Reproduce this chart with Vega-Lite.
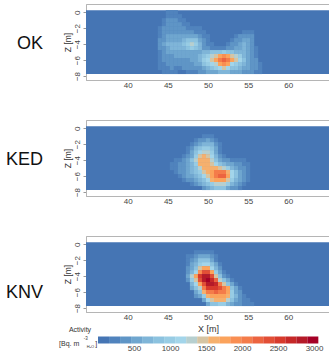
{"$schema":"https://vega.github.io/schema/vega-lite/v6.json","padding":{"left":5,"top":3,"right":0,"bottom":0},"spacing":-8.5,"config":{"font":"Liberation Sans","view":{"stroke":"#b5b5b5","strokeWidth":1},"text":{"font":"Liberation Sans"},"axis":{"labelFont":"Liberation Sans","titleFont":"Liberation Sans","labelFontSize":8,"titleFontSize":8.5,"labelColor":"#444","titleColor":"#333","titleFontWeight":"normal","grid":false,"domainColor":"#b5b5b5","tickColor":"#999","tickSize":3,"labelPadding":2,"labelOverlap":false,"format":"d"}},"vconcat":[
{"width":244,"height":76,
"layer":[
{"data":{"values":[{"x0":34.8,"x1":65.2,"z0":0.25,"z1":-7.75}]},"mark":{"type":"rect","color":"#4575b4"},"encoding":{"x":{"field":"x0","type":"quantitative","scale":{"domain":[34.8,65.2],"nice":false,"zero":false},"axis":{"values":[40,45,50,55,60],"title":" ","tickSize":0,"labelPadding":1,"titleFontSize":9,"titlePadding":21.25}},"x2":{"field":"x1"},"y":{"field":"z0","type":"quantitative","scale":{"domain":[-8.5,1.03],"nice":false,"zero":false},"axis":{"values":[0,-2,-4,-6,-8],"tickCount":5,"title":"Z [m]","labelAngle":-90,"labelAlign":"center","labelBaseline":"bottom","titlePadding":1}},"y2":{"field":"z1"}}},
{"data":{"values":[
{"x":45,"z":0,"v":200},{"x":45.5,"z":0,"v":250},{"x":46,"z":0,"v":200},
{"x":45,"z":-0.5,"v":250},{"x":45.5,"z":-0.5,"v":300},{"x":46,"z":-0.5,"v":300},{"x":46.5,"z":-0.5,"v":250},
{"x":44.5,"z":-1,"v":250},{"x":45,"z":-1,"v":350},{"x":45.5,"z":-1,"v":350},{"x":46,"z":-1,"v":350},{"x":46.5,"z":-1,"v":300},{"x":47,"z":-1,"v":250},
{"x":44.5,"z":-1.5,"v":300},{"x":45,"z":-1.5,"v":400},{"x":45.5,"z":-1.5,"v":400},{"x":46,"z":-1.5,"v":400},{"x":46.5,"z":-1.5,"v":350},{"x":47,"z":-1.5,"v":300},{"x":47.5,"z":-1.5,"v":250},
{"x":44,"z":-2,"v":250},{"x":44.5,"z":-2,"v":350},{"x":45,"z":-2,"v":400},{"x":45.5,"z":-2,"v":450},{"x":46,"z":-2,"v":450},{"x":46.5,"z":-2,"v":400},{"x":47,"z":-2,"v":350},{"x":47.5,"z":-2,"v":300},{"x":48,"z":-2,"v":250},{"x":48.5,"z":-2,"v":250},{"x":49,"z":-2,"v":200},
{"x":44,"z":-2.5,"v":300},{"x":44.5,"z":-2.5,"v":400},{"x":45,"z":-2.5,"v":450},{"x":45.5,"z":-2.5,"v":450},{"x":46,"z":-2.5,"v":450},{"x":46.5,"z":-2.5,"v":450},{"x":47,"z":-2.5,"v":400},{"x":47.5,"z":-2.5,"v":350},{"x":48,"z":-2.5,"v":350},{"x":48.5,"z":-2.5,"v":300},{"x":49,"z":-2.5,"v":250},{"x":49.5,"z":-2.5,"v":200},{"x":54.5,"z":-2.5,"v":250},{"x":55,"z":-2.5,"v":300},{"x":55.5,"z":-2.5,"v":250},
{"x":44,"z":-3,"v":300},{"x":44.5,"z":-3,"v":400},{"x":45,"z":-3,"v":500},{"x":45.5,"z":-3,"v":500},{"x":46,"z":-3,"v":500},{"x":46.5,"z":-3,"v":500},{"x":47,"z":-3,"v":550},{"x":47.5,"z":-3,"v":550},{"x":48,"z":-3,"v":550},{"x":48.5,"z":-3,"v":500},{"x":49,"z":-3,"v":400},{"x":49.5,"z":-3,"v":300},{"x":50,"z":-3,"v":200},{"x":53.5,"z":-3,"v":250},{"x":54,"z":-3,"v":350},{"x":54.5,"z":-3,"v":450},{"x":55,"z":-3,"v":450},{"x":55.5,"z":-3,"v":350},
{"x":44,"z":-3.5,"v":350},{"x":44.5,"z":-3.5,"v":450},{"x":45,"z":-3.5,"v":550},{"x":45.5,"z":-3.5,"v":550},{"x":46,"z":-3.5,"v":550},{"x":46.5,"z":-3.5,"v":600},{"x":47,"z":-3.5,"v":700},{"x":47.5,"z":-3.5,"v":850},{"x":48,"z":-3.5,"v":850},{"x":48.5,"z":-3.5,"v":800},{"x":49,"z":-3.5,"v":550},{"x":49.5,"z":-3.5,"v":350},{"x":50,"z":-3.5,"v":250},{"x":53,"z":-3.5,"v":250},{"x":53.5,"z":-3.5,"v":350},{"x":54,"z":-3.5,"v":450},{"x":54.5,"z":-3.5,"v":550},{"x":55,"z":-3.5,"v":550},{"x":55.5,"z":-3.5,"v":400},
{"x":44,"z":-4,"v":350},{"x":44.5,"z":-4,"v":500},{"x":45,"z":-4,"v":650},{"x":45.5,"z":-4,"v":700},{"x":46,"z":-4,"v":700},{"x":46.5,"z":-4,"v":750},{"x":47,"z":-4,"v":900},{"x":47.5,"z":-4,"v":1050},{"x":48,"z":-4,"v":1350},{"x":48.5,"z":-4,"v":950},{"x":49,"z":-4,"v":700},{"x":49.5,"z":-4,"v":450},{"x":50,"z":-4,"v":300},{"x":50.5,"z":-4,"v":200},{"x":52.5,"z":-4,"v":250},{"x":53,"z":-4,"v":350},{"x":53.5,"z":-4,"v":450},{"x":54,"z":-4,"v":550},{"x":54.5,"z":-4,"v":650},{"x":55,"z":-4,"v":600},{"x":55.5,"z":-4,"v":450},
{"x":44,"z":-4.5,"v":350},{"x":44.5,"z":-4.5,"v":450},{"x":45,"z":-4.5,"v":600},{"x":45.5,"z":-4.5,"v":650},{"x":46,"z":-4.5,"v":650},{"x":46.5,"z":-4.5,"v":650},{"x":47,"z":-4.5,"v":750},{"x":47.5,"z":-4.5,"v":850},{"x":48,"z":-4.5,"v":1050},{"x":48.5,"z":-4.5,"v":800},{"x":49,"z":-4.5,"v":650},{"x":49.5,"z":-4.5,"v":450},{"x":50,"z":-4.5,"v":350},{"x":50.5,"z":-4.5,"v":300},{"x":51,"z":-4.5,"v":250},{"x":51.5,"z":-4.5,"v":250},{"x":52,"z":-4.5,"v":300},{"x":52.5,"z":-4.5,"v":350},{"x":53,"z":-4.5,"v":450},{"x":53.5,"z":-4.5,"v":550},{"x":54,"z":-4.5,"v":600},{"x":54.5,"z":-4.5,"v":650},{"x":55,"z":-4.5,"v":600},{"x":55.5,"z":-4.5,"v":450},{"x":56,"z":-4.5,"v":300},
{"x":44,"z":-5,"v":300},{"x":44.5,"z":-5,"v":400},{"x":45,"z":-5,"v":500},{"x":45.5,"z":-5,"v":550},{"x":46,"z":-5,"v":550},{"x":46.5,"z":-5,"v":550},{"x":47,"z":-5,"v":600},{"x":47.5,"z":-5,"v":600},{"x":48,"z":-5,"v":600},{"x":48.5,"z":-5,"v":600},{"x":49,"z":-5,"v":600},{"x":49.5,"z":-5,"v":650},{"x":50,"z":-5,"v":750},{"x":50.5,"z":-5,"v":800},{"x":51,"z":-5,"v":850},{"x":51.5,"z":-5,"v":900},{"x":52,"z":-5,"v":950},{"x":52.5,"z":-5,"v":900},{"x":53,"z":-5,"v":800},{"x":53.5,"z":-5,"v":700},{"x":54,"z":-5,"v":650},{"x":54.5,"z":-5,"v":650},{"x":55,"z":-5,"v":550},{"x":55.5,"z":-5,"v":400},{"x":56,"z":-5,"v":300},
{"x":44,"z":-5.5,"v":300},{"x":44.5,"z":-5.5,"v":400},{"x":45,"z":-5.5,"v":450},{"x":45.5,"z":-5.5,"v":450},{"x":46,"z":-5.5,"v":500},{"x":46.5,"z":-5.5,"v":500},{"x":47,"z":-5.5,"v":500},{"x":47.5,"z":-5.5,"v":500},{"x":48,"z":-5.5,"v":500},{"x":48.5,"z":-5.5,"v":550},{"x":49,"z":-5.5,"v":700},{"x":49.5,"z":-5.5,"v":850},{"x":50,"z":-5.5,"v":1000},{"x":50.5,"z":-5.5,"v":1250},{"x":51,"z":-5.5,"v":1500},{"x":51.5,"z":-5.5,"v":1800},{"x":52,"z":-5.5,"v":1950},{"x":52.5,"z":-5.5,"v":1800},{"x":53,"z":-5.5,"v":1500},{"x":53.5,"z":-5.5,"v":1250},{"x":54,"z":-5.5,"v":950},{"x":54.5,"z":-5.5,"v":750},{"x":55,"z":-5.5,"v":550},{"x":55.5,"z":-5.5,"v":400},{"x":56,"z":-5.5,"v":300},
{"x":44,"z":-6,"v":300},{"x":44.5,"z":-6,"v":350},{"x":45,"z":-6,"v":400},{"x":45.5,"z":-6,"v":450},{"x":46,"z":-6,"v":450},{"x":46.5,"z":-6,"v":450},{"x":47,"z":-6,"v":450},{"x":47.5,"z":-6,"v":450},{"x":48,"z":-6,"v":500},{"x":48.5,"z":-6,"v":550},{"x":49,"z":-6,"v":750},{"x":49.5,"z":-6,"v":950},{"x":50,"z":-6,"v":1100},{"x":50.5,"z":-6,"v":1400},{"x":51,"z":-6,"v":1700},{"x":51.5,"z":-6,"v":2100},{"x":52,"z":-6,"v":2200},{"x":52.5,"z":-6,"v":2100},{"x":53,"z":-6,"v":1700},{"x":53.5,"z":-6,"v":1400},{"x":54,"z":-6,"v":1100},{"x":54.5,"z":-6,"v":800},{"x":55,"z":-6,"v":600},{"x":55.5,"z":-6,"v":450},{"x":56,"z":-6,"v":350},
{"x":44,"z":-6.5,"v":250},{"x":44.5,"z":-6.5,"v":300},{"x":45,"z":-6.5,"v":350},{"x":45.5,"z":-6.5,"v":400},{"x":46,"z":-6.5,"v":400},{"x":46.5,"z":-6.5,"v":400},{"x":47,"z":-6.5,"v":400},{"x":47.5,"z":-6.5,"v":400},{"x":48,"z":-6.5,"v":450},{"x":48.5,"z":-6.5,"v":500},{"x":49,"z":-6.5,"v":600},{"x":49.5,"z":-6.5,"v":800},{"x":50,"z":-6.5,"v":950},{"x":50.5,"z":-6.5,"v":1150},{"x":51,"z":-6.5,"v":1300},{"x":51.5,"z":-6.5,"v":1700},{"x":52,"z":-6.5,"v":1900},{"x":52.5,"z":-6.5,"v":1700},{"x":53,"z":-6.5,"v":1200},{"x":53.5,"z":-6.5,"v":1000},{"x":54,"z":-6.5,"v":850},{"x":54.5,"z":-6.5,"v":700},{"x":55,"z":-6.5,"v":550},{"x":55.5,"z":-6.5,"v":450},{"x":56,"z":-6.5,"v":350},{"x":56.5,"z":-6.5,"v":200},
{"x":44,"z":-7,"v":250},{"x":44.5,"z":-7,"v":300},{"x":45,"z":-7,"v":300},{"x":45.5,"z":-7,"v":350},{"x":46,"z":-7,"v":300},{"x":46.5,"z":-7,"v":300},{"x":47,"z":-7,"v":350},{"x":47.5,"z":-7,"v":350},{"x":48,"z":-7,"v":350},{"x":48.5,"z":-7,"v":400},{"x":49,"z":-7,"v":450},{"x":49.5,"z":-7,"v":600},{"x":50,"z":-7,"v":750},{"x":50.5,"z":-7,"v":850},{"x":51,"z":-7,"v":950},{"x":51.5,"z":-7,"v":1100},{"x":52,"z":-7,"v":1500},{"x":52.5,"z":-7,"v":1100},{"x":53,"z":-7,"v":900},{"x":53.5,"z":-7,"v":800},{"x":54,"z":-7,"v":700},{"x":54.5,"z":-7,"v":600},{"x":55,"z":-7,"v":500},{"x":55.5,"z":-7,"v":450},{"x":56,"z":-7,"v":350},{"x":56.5,"z":-7,"v":250},
{"x":44.5,"z":-7.5,"v":200},{"x":45,"z":-7.5,"v":250},{"x":45.5,"z":-7.5,"v":250},{"x":46,"z":-7.5,"v":250},{"x":46.5,"z":-7.5,"v":100},{"x":47,"z":-7.5,"v":100},{"x":47.5,"z":-7.5,"v":200},{"x":48,"z":-7.5,"v":250},{"x":48.5,"z":-7.5,"v":300},{"x":49,"z":-7.5,"v":350},{"x":49.5,"z":-7.5,"v":400},{"x":50,"z":-7.5,"v":500},{"x":50.5,"z":-7.5,"v":550},{"x":51,"z":-7.5,"v":600},{"x":51.5,"z":-7.5,"v":700},{"x":52,"z":-7.5,"v":750},{"x":52.5,"z":-7.5,"v":700},{"x":53,"z":-7.5,"v":600},{"x":53.5,"z":-7.5,"v":550},{"x":54,"z":-7.5,"v":500},{"x":54.5,"z":-7.5,"v":450},{"x":55,"z":-7.5,"v":400},{"x":55.5,"z":-7.5,"v":350},{"x":56,"z":-7.5,"v":300},{"x":56.5,"z":-7.5,"v":200}
]},"mark":{"type":"rect","width":4.1,"height":4.1},"encoding":{"x":{"field":"x","type":"quantitative"},"y":{"field":"z","type":"quantitative"},"color":{"field":"v","type":"quantitative","legend":null,"scale":{"type":"quantize","domain":[0,3060],"range":["#4575b4","#5083bd","#5f95c6","#6fa6cf","#7fb5d8","#8cc2df","#98cce4","#a3d5ea","#b7cfcf","#d5c4a3","#f5b06e","#fba35c","#f98e52","#f47c4a","#ec6440","#e24f36","#d73a2c","#c62828","#b51a28","#a50026"]}}}},
{"data":{"values":[{"label":"OK","lx":29.45,"lz":-3.96}]},"mark":{"type":"text","align":"right","baseline":"middle","fontSize":18,"color":"#111"},"encoding":{"x":{"field":"lx","type":"quantitative"},"y":{"field":"lz","type":"quantitative"},"text":{"field":"label"}}}
]},
{"width":244,"height":76,
"layer":[
{"data":{"values":[{"x0":34.8,"x1":65.2,"z0":0.25,"z1":-7.75}]},"mark":{"type":"rect","color":"#4575b4"},"encoding":{"x":{"field":"x0","type":"quantitative","scale":{"domain":[34.8,65.2],"nice":false,"zero":false},"axis":{"values":[40,45,50,55,60],"title":" ","tickSize":0,"labelPadding":1,"titleFontSize":9,"titlePadding":21.25}},"x2":{"field":"x1"},"y":{"field":"z0","type":"quantitative","scale":{"domain":[-8.5,1.03],"nice":false,"zero":false},"axis":{"values":[0,-2,-4,-6,-8],"tickCount":5,"title":"Z [m]","labelAngle":-90,"labelAlign":"center","labelBaseline":"bottom","titlePadding":1}},"y2":{"field":"z1"}}},
{"data":{"values":[
{"x":49.5,"z":-1,"v":250},{"x":50,"z":-1,"v":300},{"x":50.5,"z":-1,"v":250},
{"x":48.5,"z":-1.5,"v":250},{"x":49,"z":-1.5,"v":350},{"x":49.5,"z":-1.5,"v":450},{"x":50,"z":-1.5,"v":500},{"x":50.5,"z":-1.5,"v":450},{"x":51,"z":-1.5,"v":300},
{"x":48,"z":-2,"v":250},{"x":48.5,"z":-2,"v":400},{"x":49,"z":-2,"v":600},{"x":49.5,"z":-2,"v":750},{"x":50,"z":-2,"v":750},{"x":50.5,"z":-2,"v":650},{"x":51,"z":-2,"v":400},{"x":51.5,"z":-2,"v":200},
{"x":47.5,"z":-2.5,"v":250},{"x":48,"z":-2.5,"v":400},{"x":48.5,"z":-2.5,"v":650},{"x":49,"z":-2.5,"v":850},{"x":49.5,"z":-2.5,"v":1000},{"x":50,"z":-2.5,"v":950},{"x":50.5,"z":-2.5,"v":800},{"x":51,"z":-2.5,"v":500},{"x":51.5,"z":-2.5,"v":250},
{"x":47.5,"z":-3,"v":300},{"x":48,"z":-3,"v":500},{"x":48.5,"z":-3,"v":800},{"x":49,"z":-3,"v":1100},{"x":49.5,"z":-3,"v":1300},{"x":50,"z":-3,"v":1250},{"x":50.5,"z":-3,"v":950},{"x":51,"z":-3,"v":600},{"x":51.5,"z":-3,"v":300},
{"x":47,"z":-3.5,"v":250},{"x":47.5,"z":-3.5,"v":400},{"x":48,"z":-3.5,"v":600},{"x":48.5,"z":-3.5,"v":950},{"x":49,"z":-3.5,"v":1400},{"x":49.5,"z":-3.5,"v":1550},{"x":50,"z":-3.5,"v":1500},{"x":50.5,"z":-3.5,"v":1100},{"x":51,"z":-3.5,"v":700},{"x":51.5,"z":-3.5,"v":400},{"x":52,"z":-3.5,"v":250},
{"x":46,"z":-4,"v":200},{"x":46.5,"z":-4,"v":250},{"x":47,"z":-4,"v":350},{"x":47.5,"z":-4,"v":500},{"x":48,"z":-4,"v":800},{"x":48.5,"z":-4,"v":1300},{"x":49,"z":-4,"v":1600},{"x":49.5,"z":-4,"v":1650},{"x":50,"z":-4,"v":1600},{"x":50.5,"z":-4,"v":1300},{"x":51,"z":-4,"v":850},{"x":51.5,"z":-4,"v":600},{"x":52,"z":-4,"v":450},{"x":52.5,"z":-4,"v":350},{"x":53,"z":-4,"v":300},{"x":53.5,"z":-4,"v":300},{"x":54,"z":-4,"v":250},{"x":54.5,"z":-4,"v":200},
{"x":45.5,"z":-4.5,"v":200},{"x":46,"z":-4.5,"v":300},{"x":46.5,"z":-4.5,"v":350},{"x":47,"z":-4.5,"v":400},{"x":47.5,"z":-4.5,"v":550},{"x":48,"z":-4.5,"v":750},{"x":48.5,"z":-4.5,"v":1050},{"x":49,"z":-4.5,"v":1550},{"x":49.5,"z":-4.5,"v":1650},{"x":50,"z":-4.5,"v":1650},{"x":50.5,"z":-4.5,"v":1500},{"x":51,"z":-4.5,"v":1150},{"x":51.5,"z":-4.5,"v":900},{"x":52,"z":-4.5,"v":700},{"x":52.5,"z":-4.5,"v":600},{"x":53,"z":-4.5,"v":500},{"x":53.5,"z":-4.5,"v":450},{"x":54,"z":-4.5,"v":350},{"x":54.5,"z":-4.5,"v":300},{"x":55,"z":-4.5,"v":200},
{"x":45.5,"z":-5,"v":200},{"x":46,"z":-5,"v":300},{"x":46.5,"z":-5,"v":400},{"x":47,"z":-5,"v":450},{"x":47.5,"z":-5,"v":550},{"x":48,"z":-5,"v":700},{"x":48.5,"z":-5,"v":900},{"x":49,"z":-5,"v":1250},{"x":49.5,"z":-5,"v":1600},{"x":50,"z":-5,"v":1650},{"x":50.5,"z":-5,"v":1650},{"x":51,"z":-5,"v":1600},{"x":51.5,"z":-5,"v":1500},{"x":52,"z":-5,"v":1250},{"x":52.5,"z":-5,"v":1000},{"x":53,"z":-5,"v":750},{"x":53.5,"z":-5,"v":600},{"x":54,"z":-5,"v":450},{"x":54.5,"z":-5,"v":350},{"x":55,"z":-5,"v":250},
{"x":46,"z":-5.5,"v":250},{"x":46.5,"z":-5.5,"v":350},{"x":47,"z":-5.5,"v":450},{"x":47.5,"z":-5.5,"v":550},{"x":48,"z":-5.5,"v":650},{"x":48.5,"z":-5.5,"v":800},{"x":49,"z":-5.5,"v":1050},{"x":49.5,"z":-5.5,"v":1400},{"x":50,"z":-5.5,"v":1650},{"x":50.5,"z":-5.5,"v":1700},{"x":51,"z":-5.5,"v":2000},{"x":51.5,"z":-5.5,"v":2100},{"x":52,"z":-5.5,"v":2100},{"x":52.5,"z":-5.5,"v":1650},{"x":53,"z":-5.5,"v":1150},{"x":53.5,"z":-5.5,"v":800},{"x":54,"z":-5.5,"v":550},{"x":54.5,"z":-5.5,"v":350},{"x":55,"z":-5.5,"v":250},
{"x":46.5,"z":-6,"v":300},{"x":47,"z":-6,"v":400},{"x":47.5,"z":-6,"v":500},{"x":48,"z":-6,"v":550},{"x":48.5,"z":-6,"v":700},{"x":49,"z":-6,"v":850},{"x":49.5,"z":-6,"v":1100},{"x":50,"z":-6,"v":1500},{"x":50.5,"z":-6,"v":1700},{"x":51,"z":-6,"v":2000},{"x":51.5,"z":-6,"v":2150},{"x":52,"z":-6,"v":2150},{"x":52.5,"z":-6,"v":1700},{"x":53,"z":-6,"v":1150},{"x":53.5,"z":-6,"v":800},{"x":54,"z":-6,"v":550},{"x":54.5,"z":-6,"v":350},{"x":55,"z":-6,"v":250},
{"x":47,"z":-6.5,"v":300},{"x":47.5,"z":-6.5,"v":400},{"x":48,"z":-6.5,"v":450},{"x":48.5,"z":-6.5,"v":550},{"x":49,"z":-6.5,"v":700},{"x":49.5,"z":-6.5,"v":900},{"x":50,"z":-6.5,"v":1200},{"x":50.5,"z":-6.5,"v":1550},{"x":51,"z":-6.5,"v":1700},{"x":51.5,"z":-6.5,"v":1750},{"x":52,"z":-6.5,"v":1700},{"x":52.5,"z":-6.5,"v":1400},{"x":53,"z":-6.5,"v":950},{"x":53.5,"z":-6.5,"v":700},{"x":54,"z":-6.5,"v":500},{"x":54.5,"z":-6.5,"v":350},{"x":55,"z":-6.5,"v":250},
{"x":48,"z":-7,"v":300},{"x":48.5,"z":-7,"v":400},{"x":49,"z":-7,"v":500},{"x":49.5,"z":-7,"v":650},{"x":50,"z":-7,"v":800},{"x":50.5,"z":-7,"v":1050},{"x":51,"z":-7,"v":1250},{"x":51.5,"z":-7,"v":1350},{"x":52,"z":-7,"v":1300},{"x":52.5,"z":-7,"v":950},{"x":53,"z":-7,"v":700},{"x":53.5,"z":-7,"v":550},{"x":54,"z":-7,"v":400},{"x":54.5,"z":-7,"v":300},
{"x":49.5,"z":-7.5,"v":350},{"x":50,"z":-7.5,"v":500},{"x":50.5,"z":-7.5,"v":650},{"x":51,"z":-7.5,"v":800},{"x":51.5,"z":-7.5,"v":850},{"x":52,"z":-7.5,"v":800},{"x":52.5,"z":-7.5,"v":600},{"x":53,"z":-7.5,"v":450},{"x":53.5,"z":-7.5,"v":350},{"x":54,"z":-7.5,"v":250}
]},"mark":{"type":"rect","width":4.1,"height":4.1},"encoding":{"x":{"field":"x","type":"quantitative"},"y":{"field":"z","type":"quantitative"},"color":{"field":"v","type":"quantitative","legend":null,"scale":{"type":"quantize","domain":[0,3060],"range":["#4575b4","#5083bd","#5f95c6","#6fa6cf","#7fb5d8","#8cc2df","#98cce4","#a3d5ea","#b7cfcf","#d5c4a3","#f5b06e","#fba35c","#f98e52","#f47c4a","#ec6440","#e24f36","#d73a2c","#c62828","#b51a28","#a50026"]}}}},
{"data":{"values":[{"label":"KED","lx":29.45,"lz":-3.96}]},"mark":{"type":"text","align":"right","baseline":"middle","fontSize":18,"color":"#111"},"encoding":{"x":{"field":"lx","type":"quantitative"},"y":{"field":"lz","type":"quantitative"},"text":{"field":"label"}}}
]},
{"width":244,"height":76,
"layer":[
{"data":{"values":[{"x0":34.8,"x1":65.2,"z0":0.25,"z1":-7.75}]},"mark":{"type":"rect","color":"#4575b4"},"encoding":{"x":{"field":"x0","type":"quantitative","scale":{"domain":[34.8,65.2],"nice":false,"zero":false},"axis":{"values":[40,45,50,55,60],"title":"X [m]","tickSize":0,"labelPadding":1,"titleFontSize":9,"titlePadding":3}},"x2":{"field":"x1"},"y":{"field":"z0","type":"quantitative","scale":{"domain":[-8.5,1.03],"nice":false,"zero":false},"axis":{"values":[0,-2,-4,-6,-8],"tickCount":5,"title":"Z [m]","labelAngle":-90,"labelAlign":"center","labelBaseline":"bottom","titlePadding":1}},"y2":{"field":"z1"}}},
{"data":{"values":[
{"x":48.5,"z":-1,"v":200},{"x":49,"z":-1,"v":250},{"x":49.5,"z":-1,"v":300},{"x":50,"z":-1,"v":250},{"x":50.5,"z":-1,"v":200},
{"x":47.5,"z":-1.5,"v":200},{"x":48,"z":-1.5,"v":300},{"x":48.5,"z":-1.5,"v":400},{"x":49,"z":-1.5,"v":500},{"x":49.5,"z":-1.5,"v":550},{"x":50,"z":-1.5,"v":500},{"x":50.5,"z":-1.5,"v":350},{"x":51,"z":-1.5,"v":200},
{"x":47.5,"z":-2,"v":300},{"x":48,"z":-2,"v":400},{"x":48.5,"z":-2,"v":600},{"x":49,"z":-2,"v":800},{"x":49.5,"z":-2,"v":900},{"x":50,"z":-2,"v":850},{"x":50.5,"z":-2,"v":600},{"x":51,"z":-2,"v":300},
{"x":47.5,"z":-2.5,"v":300},{"x":48,"z":-2.5,"v":500},{"x":48.5,"z":-2.5,"v":750},{"x":49,"z":-2.5,"v":1000},{"x":49.5,"z":-2.5,"v":1200},{"x":50,"z":-2.5,"v":1150},{"x":50.5,"z":-2.5,"v":850},{"x":51,"z":-2.5,"v":500},{"x":51.5,"z":-2.5,"v":250},
{"x":47.5,"z":-3,"v":350},{"x":48,"z":-3,"v":600},{"x":48.5,"z":-3,"v":900},{"x":49,"z":-3,"v":1500},{"x":49.5,"z":-3,"v":1800},{"x":50,"z":-3,"v":1750},{"x":50.5,"z":-3,"v":1200},{"x":51,"z":-3,"v":700},{"x":51.5,"z":-3,"v":350},
{"x":47.5,"z":-3.5,"v":400},{"x":48,"z":-3.5,"v":750},{"x":48.5,"z":-3.5,"v":1200},{"x":49,"z":-3.5,"v":1900},{"x":49.5,"z":-3.5,"v":2350},{"x":50,"z":-3.5,"v":2300},{"x":50.5,"z":-3.5,"v":1800},{"x":51,"z":-3.5,"v":1000},{"x":51.5,"z":-3.5,"v":500},{"x":52,"z":-3.5,"v":250},
{"x":47.5,"z":-4,"v":500},{"x":48,"z":-4,"v":1300},{"x":48.5,"z":-4,"v":1800},{"x":49,"z":-4,"v":2500},{"x":49.5,"z":-4,"v":2850},{"x":50,"z":-4,"v":2800},{"x":50.5,"z":-4,"v":2400},{"x":51,"z":-4,"v":1500},{"x":51.5,"z":-4,"v":800},{"x":52,"z":-4,"v":450},{"x":52.5,"z":-4,"v":250},
{"x":47.5,"z":-4.5,"v":400},{"x":48,"z":-4.5,"v":1000},{"x":48.5,"z":-4.5,"v":1500},{"x":49,"z":-4.5,"v":2300},{"x":49.5,"z":-4.5,"v":2800},{"x":50,"z":-4.5,"v":3000},{"x":50.5,"z":-4.5,"v":2750},{"x":51,"z":-4.5,"v":2200},{"x":51.5,"z":-4.5,"v":1300},{"x":52,"z":-4.5,"v":800},{"x":52.5,"z":-4.5,"v":500},{"x":53,"z":-4.5,"v":300},
{"x":48,"z":-5,"v":700},{"x":48.5,"z":-5,"v":1100},{"x":49,"z":-5,"v":1800},{"x":49.5,"z":-5,"v":2400},{"x":50,"z":-5,"v":2800},{"x":50.5,"z":-5,"v":2900},{"x":51,"z":-5,"v":2700},{"x":51.5,"z":-5,"v":2100},{"x":52,"z":-5,"v":1500},{"x":52.5,"z":-5,"v":900},{"x":53,"z":-5,"v":500},{"x":53.5,"z":-5,"v":300},
{"x":48,"z":-5.5,"v":500},{"x":48.5,"z":-5.5,"v":800},{"x":49,"z":-5.5,"v":1300},{"x":49.5,"z":-5.5,"v":2000},{"x":50,"z":-5.5,"v":2500},{"x":50.5,"z":-5.5,"v":2600},{"x":51,"z":-5.5,"v":2600},{"x":51.5,"z":-5.5,"v":2400},{"x":52,"z":-5.5,"v":2100},{"x":52.5,"z":-5.5,"v":1700},{"x":53,"z":-5.5,"v":900},{"x":53.5,"z":-5.5,"v":500},{"x":54,"z":-5.5,"v":250},
{"x":48.5,"z":-6,"v":550},{"x":49,"z":-6,"v":900},{"x":49.5,"z":-6,"v":1600},{"x":50,"z":-6,"v":2000},{"x":50.5,"z":-6,"v":2100},{"x":51,"z":-6,"v":2200},{"x":51.5,"z":-6,"v":2100},{"x":52,"z":-6,"v":2000},{"x":52.5,"z":-6,"v":1700},{"x":53,"z":-6,"v":1000},{"x":53.5,"z":-6,"v":600},{"x":54,"z":-6,"v":350},
{"x":48.5,"z":-6.5,"v":350},{"x":49,"z":-6.5,"v":550},{"x":49.5,"z":-6.5,"v":950},{"x":50,"z":-6.5,"v":1600},{"x":50.5,"z":-6.5,"v":1750},{"x":51,"z":-6.5,"v":1800},{"x":51.5,"z":-6.5,"v":1800},{"x":52,"z":-6.5,"v":1750},{"x":52.5,"z":-6.5,"v":1600},{"x":53,"z":-6.5,"v":950},{"x":53.5,"z":-6.5,"v":650},{"x":54,"z":-6.5,"v":400},{"x":54.5,"z":-6.5,"v":250},
{"x":49.5,"z":-7,"v":550},{"x":50,"z":-7,"v":1100},{"x":50.5,"z":-7,"v":1500},{"x":51,"z":-7,"v":1600},{"x":51.5,"z":-7,"v":1650},{"x":52,"z":-7,"v":1600},{"x":52.5,"z":-7,"v":1350},{"x":53,"z":-7,"v":800},{"x":53.5,"z":-7,"v":550},{"x":54,"z":-7,"v":400},{"x":54.5,"z":-7,"v":300},{"x":55,"z":-7,"v":200},
{"x":50,"z":-7.5,"v":500},{"x":50.5,"z":-7.5,"v":800},{"x":51,"z":-7.5,"v":900},{"x":51.5,"z":-7.5,"v":1000},{"x":52,"z":-7.5,"v":950},{"x":52.5,"z":-7.5,"v":750},{"x":53,"z":-7.5,"v":500},{"x":53.5,"z":-7.5,"v":400},{"x":54,"z":-7.5,"v":350},{"x":54.5,"z":-7.5,"v":300},{"x":55,"z":-7.5,"v":250},{"x":55.5,"z":-7.5,"v":200}
]},"mark":{"type":"rect","width":4.1,"height":4.1},"encoding":{"x":{"field":"x","type":"quantitative"},"y":{"field":"z","type":"quantitative"},"color":{"field":"v","type":"quantitative","legend":null,"scale":{"type":"quantize","domain":[0,3060],"range":["#4575b4","#5083bd","#5f95c6","#6fa6cf","#7fb5d8","#8cc2df","#98cce4","#a3d5ea","#b7cfcf","#d5c4a3","#f5b06e","#fba35c","#f98e52","#f47c4a","#ec6440","#e24f36","#d73a2c","#c62828","#b51a28","#a50026"]}}}},
{"data":{"values":[{"label":"KNV","lx":29.45,"lz":-6.15}]},"mark":{"type":"text","align":"right","baseline":"middle","fontSize":18,"color":"#111"},"encoding":{"x":{"field":"lx","type":"quantitative"},"y":{"field":"lz","type":"quantitative"},"text":{"field":"label"}}}
]},
{"width":244,"height":7,"view":{"stroke":null},
"layer":[
{"data":{"values":[{"lo":0,"hi":153,"v":76},{"lo":153,"hi":306,"v":229},{"lo":306,"hi":459,"v":382},{"lo":459,"hi":612,"v":535},{"lo":612,"hi":765,"v":688},{"lo":765,"hi":918,"v":841},{"lo":918,"hi":1071,"v":994},{"lo":1071,"hi":1224,"v":1147},{"lo":1224,"hi":1377,"v":1300},{"lo":1377,"hi":1530,"v":1453},{"lo":1530,"hi":1683,"v":1606},{"lo":1683,"hi":1836,"v":1759},{"lo":1836,"hi":1989,"v":1912},{"lo":1989,"hi":2142,"v":2065},{"lo":2142,"hi":2295,"v":2218},{"lo":2295,"hi":2448,"v":2371},{"lo":2448,"hi":2601,"v":2524},{"lo":2601,"hi":2754,"v":2677},{"lo":2754,"hi":2907,"v":2830},{"lo":2907,"hi":3060,"v":2983}]},
"mark":"rect","encoding":{"x":{"field":"lo","type":"quantitative","scale":{"domain":[-167,3222],"nice":false,"zero":false},"axis":{"values":[500,1000,1500,2000,2500,3000],"title":null,"domain":false,"ticks":false,"labelPadding":1,"format":"d"}},"x2":{"field":"hi"},"y":{"datum":0,"type":"quantitative","scale":{"domain":[0,1],"nice":false,"zero":false},"axis":null},"y2":{"datum":1},"color":{"field":"v","type":"quantitative","legend":null,"scale":{"type":"quantize","domain":[0,3060],"range":["#4575b4","#5083bd","#5f95c6","#6fa6cf","#7fb5d8","#8cc2df","#98cce4","#a3d5ea","#b7cfcf","#d5c4a3","#f5b06e","#fba35c","#f98e52","#f47c4a","#ec6440","#e24f36","#d73a2c","#c62828","#b51a28","#a50026"]}}}},
{"data":{"values":[{"label":"Activity","lx":-250,"ly":1.86,"fs":7},{"label":"[Bq. m","lx":-400,"ly":0,"fs":7},{"label":"-3","lx":-170,"ly":0.6,"fs":4.5},{"label":"H₂O","lx":-105,"ly":-0.45,"fs":4},{"label":"]","lx":-25,"ly":0,"fs":7}]},
"mark":{"type":"text","baseline":"middle","align":"center","color":"#333"},"encoding":{"x":{"field":"lx","type":"quantitative"},"y":{"field":"ly","type":"quantitative"},"text":{"field":"label"},"size":{"field":"fs","type":"quantitative","scale":null}}}
]}
]}
